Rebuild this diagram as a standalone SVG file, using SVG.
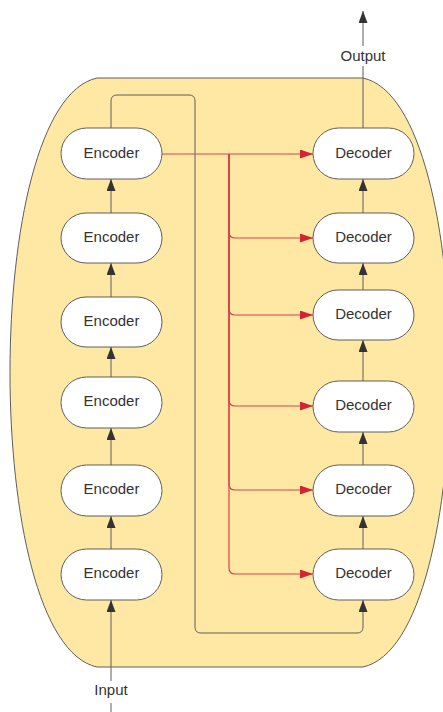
<svg xmlns="http://www.w3.org/2000/svg" width="443" height="712" viewBox="0 0 443 712">
  <defs>
    <style>
      .node rect { fill: #ffffff; stroke: #5e5e5e; stroke-width: 1; }
      .node text, .label { font-family: "Liberation Sans", Arial, sans-serif; font-size: 15px; fill: #333333; text-anchor: middle; }
      .flow { fill: none; stroke: #5e5e5e; stroke-width: 1; }
      .link { fill: none; stroke: #d9434a; stroke-width: 1.2; }
    </style>
    <marker id="arrow" markerUnits="userSpaceOnUse" viewBox="0 0 12 9" refX="12" refY="4.5" markerWidth="12" markerHeight="9" orient="auto">
      <path d="M0,0 L12,4.5 L0,9 z" fill="#333333"/>
    </marker>
    <marker id="arrow-red" markerUnits="userSpaceOnUse" viewBox="0 0 13 9" refX="13" refY="4.5" markerWidth="13" markerHeight="9" orient="auto">
      <path d="M0,0 L13,4.5 L0,9 z" fill="#d3232f"/>
    </marker>
  </defs>

  <rect width="443" height="712" fill="#ffffff"/>

  <!-- container -->
  <g id="stack">
    <path d="M97,78 H363 C479,103 479,642 363,667 H97 C-19,642 -19,103 97,78 Z" fill="#fee8a3" stroke="#5e5e5e" stroke-width="1"/>
  </g>

  <!-- connectors -->
  <g id="connectors">
    <!-- input / output -->
    <line class="flow" x1="111" y1="712" x2="111" y2="703"/>
    <line class="flow" x1="111" y1="681" x2="111" y2="600" marker-end="url(#arrow)"/>
    <line class="flow" x1="363" y1="128" x2="363" y2="66"/>
    <line class="flow" x1="363" y1="46" x2="363" y2="11" marker-end="url(#arrow)"/>

    <!-- encoder chain -->
    <line class="flow" x1="111" y1="549" x2="111" y2="516" marker-end="url(#arrow)"/>
    <line class="flow" x1="111" y1="465" x2="111" y2="428" marker-end="url(#arrow)"/>
    <line class="flow" x1="111" y1="377" x2="111" y2="347" marker-end="url(#arrow)"/>
    <line class="flow" x1="111" y1="297" x2="111" y2="263" marker-end="url(#arrow)"/>
    <line class="flow" x1="111" y1="213" x2="111" y2="179" marker-end="url(#arrow)"/>

    <!-- decoder chain -->
    <line class="flow" x1="363" y1="549" x2="363" y2="516" marker-end="url(#arrow)"/>
    <line class="flow" x1="363" y1="465" x2="363" y2="432" marker-end="url(#arrow)"/>
    <line class="flow" x1="363" y1="381" x2="363" y2="340" marker-end="url(#arrow)"/>
    <line class="flow" x1="363" y1="290" x2="363" y2="263" marker-end="url(#arrow)"/>
    <line class="flow" x1="363" y1="213" x2="363" y2="179" marker-end="url(#arrow)"/>

    <!-- skip path from the top encoder to the bottom decoder -->
    <path class="flow" d="M111,128 V101 Q111,95 117,95 H189 Q195,95 195,101 V627 Q195,633 201,633 H357 Q363,633 363,627 V600" marker-end="url(#arrow)"/>

    <!-- encoder output fan-out to every decoder -->
    <path class="link" d="M162,154 H313" marker-end="url(#arrow-red)"/>
    <path class="link" d="M229,154 V232 Q229,238 235,238 H313" marker-end="url(#arrow-red)"/>
    <path class="link" d="M229,154 V309 Q229,315 235,315 H313" marker-end="url(#arrow-red)"/>
    <path class="link" d="M229,154 V400 Q229,406 235,406 H313" marker-end="url(#arrow-red)"/>
    <path class="link" d="M229,154 V484 Q229,490 235,490 H313" marker-end="url(#arrow-red)"/>
    <path class="link" d="M229,154 V568 Q229,574 235,574 H313" marker-end="url(#arrow-red)"/>
  </g>

  <!-- encoders -->
  <g id="encoder-1" class="node"><rect x="61" y="128" width="101" height="51" rx="25.5"/><text x="111.5" y="157.5">Encoder</text></g>
  <g id="encoder-2" class="node"><rect x="61" y="213" width="101" height="50" rx="25"/><text x="111.5" y="242">Encoder</text></g>
  <g id="encoder-3" class="node"><rect x="61" y="297" width="101" height="50" rx="25"/><text x="111.5" y="326">Encoder</text></g>
  <g id="encoder-4" class="node"><rect x="61" y="377" width="101" height="51" rx="25.5"/><text x="111.5" y="405.5">Encoder</text></g>
  <g id="encoder-5" class="node"><rect x="61" y="465" width="101" height="51" rx="25.5"/><text x="111.5" y="494">Encoder</text></g>
  <g id="encoder-6" class="node"><rect x="61" y="549" width="101" height="51" rx="25.5"/><text x="111.5" y="578">Encoder</text></g>

  <!-- decoders -->
  <g id="decoder-1" class="node"><rect x="313" y="128" width="101" height="51" rx="25.5"/><text x="363.5" y="157.5">Decoder</text></g>
  <g id="decoder-2" class="node"><rect x="313" y="213" width="101" height="50" rx="25"/><text x="363.5" y="242">Decoder</text></g>
  <g id="decoder-3" class="node"><rect x="313" y="290" width="101" height="50" rx="25"/><text x="363.5" y="319">Decoder</text></g>
  <g id="decoder-4" class="node"><rect x="313" y="381" width="101" height="51" rx="25.5"/><text x="363.5" y="409.5">Decoder</text></g>
  <g id="decoder-5" class="node"><rect x="313" y="465" width="101" height="51" rx="25.5"/><text x="363.5" y="494">Decoder</text></g>
  <g id="decoder-6" class="node"><rect x="313" y="549" width="101" height="51" rx="25.5"/><text x="363.5" y="578">Decoder</text></g>

  <!-- labels -->
  <g id="output-label"><text class="label" x="363" y="61">Output</text></g>
  <g id="input-label"><text class="label" x="111" y="695">Input</text></g>
</svg>
